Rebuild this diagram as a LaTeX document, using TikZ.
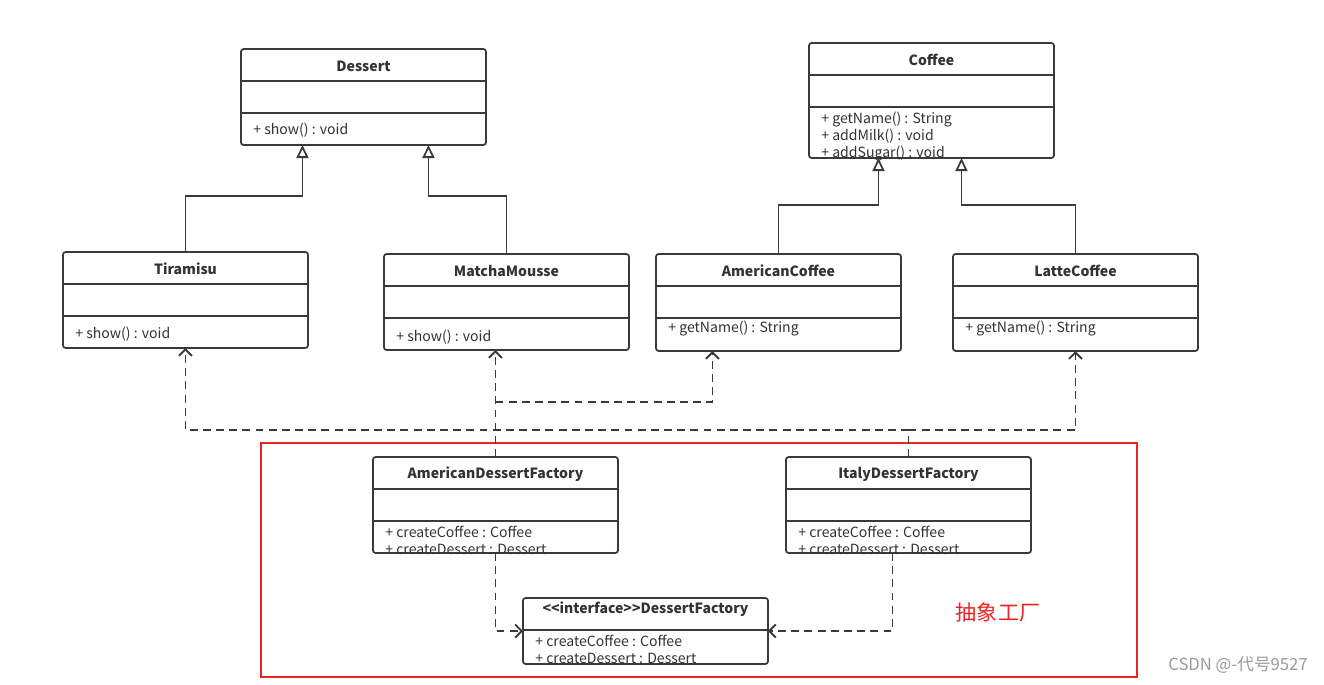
\documentclass[tikz,border=0pt]{standalone}
\usepackage{fontspec}
\setmainfont{Noto Sans CJK SC}
\usetikzlibrary{calc,arrows.meta,positioning}

\definecolor{boxGray}{HTML}{3A3A3A}
\definecolor{textGray}{HTML}{333333}
\definecolor{frameRed}{HTML}{EE2222}
\definecolor{markGray}{HTML}{9A9A9A}

% name, left, top, height, title, ops offset, ops
\newcommand{\umlclass}[7]{%
	\node[classbox, minimum height=#4*0.02cm, anchor=north west] (#1) at (#2,#3) {};
	\node[classtitle] (#1-title) at ($(#1.north)+(0,17)$) {#5};
	\draw[boxline] ($(#1.north west)+(0,32)$) -- ($(#1.north east)+(0,32)$);
	\draw[boxline] ($(#1.north west)+(0,64)$) -- ($(#1.north east)+(0,64)$);
	\node[classops] (#1-ops) at ($(#1.north west)+(12,#6)$) {#7};
}

\begin{document}
\begin{tikzpicture}[x=0.02cm, y=-0.02cm,
		classbox/.style={draw=boxGray, line width=1pt, rounded corners=1.5pt, minimum width=4.9cm, inner sep=0pt, outer sep=0pt, fill=white},
		boxline/.style={draw=boxGray, line width=1pt},
		classtitle/.style={font=\fontsize{8}{9.6}\selectfont\bfseries, text=textGray, inner sep=0pt},
		classops/.style={anchor=north west, align=left, font=\fontsize{8}{9.6}\selectfont, text=textGray, inner sep=0pt},
		inherit/.style={draw=boxGray, line width=1pt, -{Triangle[open, fill=white, length=0.26cm, width=0.24cm]}},
		depend/.style={draw=boxGray, line width=1.1pt, dash pattern=on 4.5pt off 3pt, -{Straight Barb[length=0.13cm, width=0.26cm]}}]
	\useasboundingbox (0,0) rectangle (1324,684);
	
	\draw[frameRed, line width=1.2pt] (261,443) rectangle (1137,677);
	
	\umlclass{dessert}{241}{49}{96}{Dessert}{74}{+ show() : void}
	\umlclass{coffee}{809}{43}{115}{Coffee}{69}{+ getName() : String\\+ addMilk() : void\\+ addSugar() : void}
	\umlclass{tiramisu}{63}{252}{96}{Tiramisu}{75}{+ show() : void}
	\umlclass{matcha}{384}{254}{96}{MatchaMousse}{76}{+ show() : void}
	\umlclass{acoffee}{656}{254}{97}{AmericanCoffee}{67}{+ getName() : String}
	\umlclass{latte}{953}{254}{97}{LatteCoffee}{67}{+ getName() : String}
	\umlclass{adf}{373}{457}{96}{AmericanDessertFactory}{69}{+ createCoffee : Coffee\\+ createDessert : Dessert}
	\umlclass{idf}{786}{457}{96}{ItalyDessertFactory}{69}{+ createCoffee : Coffee\\+ createDessert : Dessert}
	
	\node[classbox, minimum height=66*0.02cm, anchor=north west] (iface) at (523,598) {};
	\node[classtitle] (iface-title) at ($(iface.north)+(0,11)$) {<{}<interface>{}>DessertFactory};
	\draw[boxline] ($(iface.north west)+(0,32)$) -- ($(iface.north east)+(0,32)$);
	\node[classops] (iface-ops) at ($(iface.north west)+(12,37)$) {+ createCoffee : Coffee\\+ createDessert : Dessert};
	
	% generalization
	\draw[inherit] (tiramisu.north) |- ($(dessert.south)+(-61,51)$) -- ($(dessert.south)+(-61,0)$);
	\draw[inherit] (matcha.north) |- ($(dessert.south)+(65,51)$) -- ($(dessert.south)+(65,0)$);
	\draw[inherit] (acoffee.north) |- ($(coffee.south)+(-53,47)$) -- ($(coffee.south)+(-53,0)$);
	\draw[inherit] (latte.north) |- ($(coffee.south)+(30,47)$) -- ($(coffee.south)+(30,0)$);
	
	% dependencies
	\coordinate (adfjoint) at ($(adf.north)+(0,-55)$);
	\coordinate (idfjoint) at ($(idf.north)+(0,-27)$);
	\draw[depend] (adf.north) -- ($(matcha.south)+(-11,0)$);
	\draw[depend] (adfjoint) -| ($(acoffee.south)+(-66,0)$);
	\draw[depend] (idf.north) -- (idfjoint) -| (tiramisu.south);
	\draw[depend] (idfjoint) -| (latte.south);
	\draw[depend] (adf.south) |- (iface.west);
	\draw[depend] ($(idf.south)+(-16,0)$) |- (iface.east);
	
	\node[text=frameRed, font=\fontsize{12}{14}\selectfont, inner sep=0pt] (absfactory) at (998,612) {抽象工厂};
	\node[text=markGray, font=\fontsize{9.5}{11}\selectfont, inner sep=0pt] (watermark) at (1238,665) {CSDN @-代号9527};
\end{tikzpicture}
\end{document}
